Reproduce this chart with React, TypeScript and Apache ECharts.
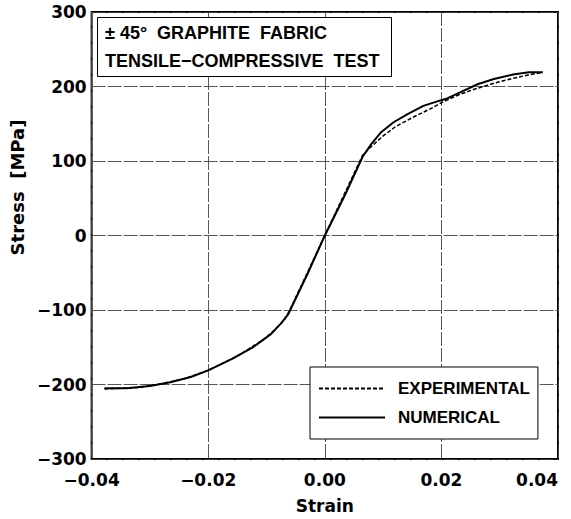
import React, { useEffect, useRef } from "react";
import * as echarts from "echarts";

// Strain / stress readings for the ±45° graphite fabric specimen
const numericalStrain = [
  -0.0378, -0.034, -0.03, -0.0265, -0.023, -0.02, -0.016, -0.0125, -0.0092,
  -0.0075, -0.0063, -0.003, 0, 0.0035, 0.0065, 0.008, 0.0097, 0.0118, 0.0142,
  0.0169, 0.0193, 0.021, 0.0232, 0.0262, 0.029, 0.0323, 0.035, 0.0374,
];
const numericalStress = [
  -205, -205, -202, -197, -190, -181, -166, -151, -132, -118, -106, -52, 0, 55,
  106, 123, 139, 152, 163, 174, 180, 184, 192, 203, 210, 216, 219, 219,
];

const experimentalStrain = [
  -0.0378, -0.032, -0.028, -0.024, -0.02, -0.015, -0.01, -0.007, -0.006, 0,
  0.0065, 0.0082, 0.0099, 0.0121, 0.0152, 0.0181, 0.0202, 0.0227, 0.0255,
  0.0284, 0.0323, 0.0352, 0.0374,
];
const experimentalStress = [
  -206, -204, -199, -192, -181, -162, -137, -114, -100, 0, 108, 121, 133, 146,
  159, 170, 179, 188, 196, 203, 211, 216, 219,
];

const seriesNames = ["EXPERIMENTAL", "NUMERICAL"];
const titleLines = ["± 45°  GRAPHITE  FABRIC", "TENSILE−COMPRESSIVE  TEST"];

const pairs = (xs: number[], ys: number[]) => xs.map((x, i) => [x, ys[i]]);
const minus = (s: string) => s.replace("-", "−");

const AXIS_FONT = "'DejaVu Sans', sans-serif";
const BOX_FONT = "'Liberation Sans', Arial, sans-serif";

export default function App() {
  const ref = useRef<HTMLDivElement>(null);

  useEffect(() => {
    if (!ref.current) return;
    const chart = echarts.init(ref.current, undefined, { renderer: "svg" });
    const gridLine = { show: true, lineStyle: { color: "#444", width: 0.9, type: [14, 2] as any } };
    chart.setOption({
      animation: false,
      backgroundColor: "#fff",
      grid: {
        left: 90,
        right: 13,
        top: 12,
        bottom: 54,
        show: true,
        borderColor: "#000",
        borderWidth: 2,
        backgroundColor: "transparent",
      },
      title: {
        text: titleLines.join("\n"),
        left: 97,
        top: 17,
        padding: [2, 12, 2, 8],
        borderColor: "#000",
        borderWidth: 1,
        backgroundColor: "#fff",
        textStyle: {
          fontFamily: BOX_FONT,
          fontWeight: "bold",
          fontSize: 18,
          lineHeight: 28,
          color: "#000",
        },
      },
      legend: {
        data: seriesNames,
        orient: "vertical",
        left: 310,
        top: 367,
        padding: [13, 8, 13, 8],
        itemWidth: 66,
        itemHeight: 14,
        itemGap: 12,
        borderColor: "#000",
        borderWidth: 1,
        backgroundColor: "#fff",
        itemStyle: { opacity: 0 },
        textStyle: {
          fontFamily: BOX_FONT,
          fontWeight: "bold",
          fontSize: 17,
          color: "#000",
          padding: [0, 0, 0, 8],
        },
      },
      xAxis: {
        type: "value",
        min: -0.04,
        max: 0.04,
        interval: 0.02,
        name: "Strain",
        nameLocation: "middle",
        nameGap: 38,
        nameTextStyle: { fontFamily: AXIS_FONT, fontWeight: "bold", fontSize: 17, color: "#000" },
        axisLine: { show: false },
        axisTick: { show: false },
        splitLine: gridLine,
        axisLabel: {
          margin: 12,
          fontFamily: AXIS_FONT,
          fontWeight: "bold",
          fontSize: 17,
          color: "#000",
          alignMaxLabel: "right",
          formatter: (v: number) => minus(v.toFixed(2)),
        },
      },
      yAxis: {
        type: "value",
        min: -300,
        max: 300,
        interval: 100,
        name: "Stress  [MPa]",
        nameLocation: "middle",
        nameGap: 63,
        nameTextStyle: {
          fontFamily: AXIS_FONT,
          fontWeight: "bold",
          fontSize: 18,
          color: "#000",
          padding: [0, 0, 0, 96],
        },
        axisLine: { show: false },
        axisTick: { show: false },
        splitLine: gridLine,
        axisLabel: {
          margin: 5,
          fontFamily: AXIS_FONT,
          fontWeight: "bold",
          fontSize: 17,
          color: "#000",
          formatter: (v: number) => minus(String(v)),
        },
      },
      series: [
        {
          name: seriesNames[0],
          type: "line",
          data: pairs(experimentalStrain, experimentalStress),
          showSymbol: false,
          symbol: "none",
          itemStyle: { color: "#000" },
          lineStyle: { color: "#000", width: 1.5, type: [4, 2] },
          z: 3,
        },
        {
          name: seriesNames[1],
          type: "line",
          data: pairs(numericalStrain, numericalStress),
          showSymbol: false,
          symbol: "none",
          itemStyle: { color: "#000" },
          lineStyle: { color: "#000", width: 2, type: "solid" },
          z: 2,
        },
      ],
    });
    return () => chart.dispose();
  }, []);

  return (
    <div
      ref={ref}
      style={{ position: "fixed", left: 0, top: 0, width: 571, height: 519 }}
    />
  );
}
